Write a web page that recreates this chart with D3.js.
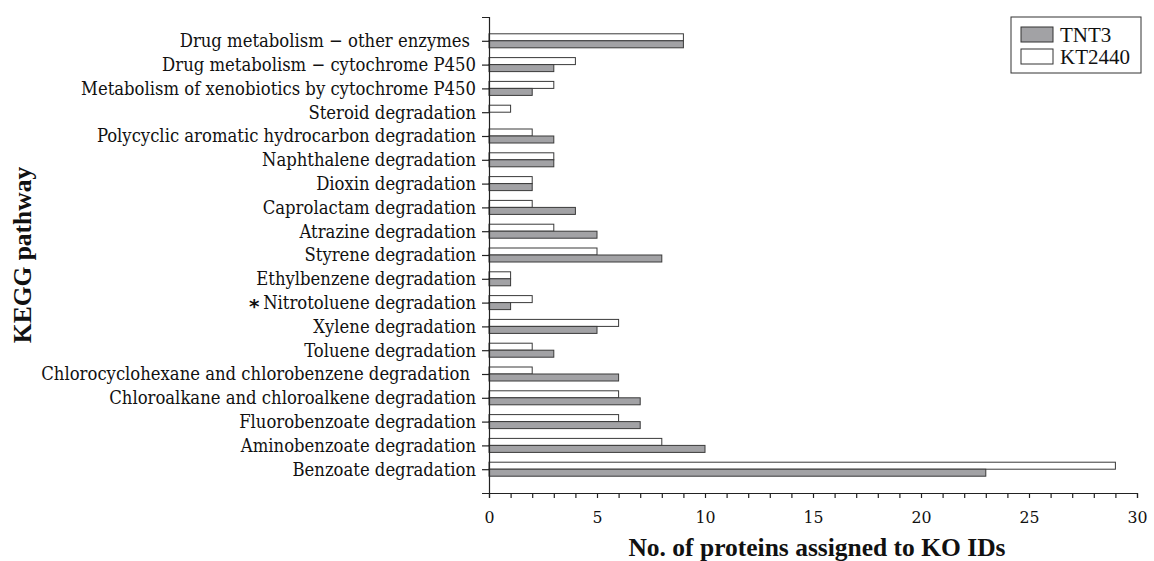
<!DOCTYPE html>
<html>
<head>
<meta charset="utf-8">
<script src="https://cdn.jsdelivr.net/npm/d3@7"></script>
<style>
  body { margin: 0; background: #fff; }
</style>
</head>
<body>
<div id="chart"></div>
<script>
// KEGG pathways, top to bottom
var pathways = [
    "Drug metabolism \u2212 other enzymes",
    "Drug metabolism \u2212 cytochrome P450",
    "Metabolism of xenobiotics by cytochrome P450",
    "Steroid degradation",
    "Polycyclic aromatic hydrocarbon degradation",
    "Naphthalene degradation",
    "Dioxin degradation",
    "Caprolactam degradation",
    "Atrazine degradation",
    "Styrene degradation",
    "Ethylbenzene degradation",
    "Nitrotoluene degradation",
    "Xylene degradation",
    "Toluene degradation",
    "Chlorocyclohexane and chlorobenzene degradation",
    "Chloroalkane and chloroalkene degradation",
    "Fluorobenzoate degradation",
    "Aminobenzoate degradation",
    "Benzoate degradation"
];

// protein counts per pathway
var tnt3   = [9, 3, 2, 0, 3, 3, 2, 4, 5, 8, 1, 1, 5, 3, 6, 7, 7, 10, 23];
var kt2440 = [9, 4, 3, 1, 2, 3, 2, 2, 3, 5, 1, 2, 6, 2, 2, 6, 6, 8, 29];

var xTicks = [0, 5, 10, 15, 20, 25, 30];
var starred = "Nitrotoluene degradation";
// labels that carry a trailing space in the original
var trailingSpace = ["Drug metabolism \u2212 other enzymes",
                     "Chlorocyclohexane and chlorobenzene degradation"];

var width = 1154, height = 561;
var plotLeft = 489, plotRight = 1137, plotTop = 17, plotBottom = 493;
var barH = 7;

var svg = d3.select("#chart")
            .append("svg")
            .attr("width", width)
            .attr("height", height);

// Scales
var xScale = d3.scaleLinear()
               .domain([0, 30])
               .range([plotLeft, plotRight]);

var yScale = d3.scalePoint()
               .domain(pathways)
               .range([plotTop, plotBottom])
               .padding(1);

// Bars - KT2440 above the tick, TNT3 below
var rows = pathways.map(function(p, i) {
    return { name: p, tnt3: tnt3[i], kt2440: kt2440[i] };
});

svg.append("g")
   .selectAll("rect")
   .data(rows)
   .enter()
   .append("rect")
   .attr("x", xScale(0))
   .attr("y", function(d) { return yScale(d.name) - barH; })
   .attr("width", function(d) { return xScale(d.kt2440) - xScale(0); })
   .attr("height", barH)
   .attr("fill", "#ffffff")
   .attr("stroke", "#3a3a3a")
   .attr("stroke-width", 1);

svg.append("g")
   .selectAll("rect")
   .data(rows.filter(function(d) { return d.tnt3 > 0; }))
   .enter()
   .append("rect")
   .attr("x", xScale(0))
   .attr("y", function(d) { return yScale(d.name); })
   .attr("width", function(d) { return xScale(d.tnt3) - xScale(0); })
   .attr("height", barH)
   .attr("fill", "#a2a2a5")
   .attr("stroke", "#3a3a3a")
   .attr("stroke-width", 1);

// Y axis
var yAxis = svg.append("g")
   .attr("class", "axis")
   .attr("transform", "translate(" + plotLeft + ",0)")
   .call(d3.axisLeft(yScale).tickSize(7).tickSizeOuter(7).tickPadding(6));

yAxis.selectAll("text")
     .attr("font-family", "'DejaVu Serif', serif")
     .attr("font-stretch", "condensed")
     .attr("font-size", "18.3px")
     .attr("fill", "#111")
     .attr("dx", function(d) { return trailingSpace.indexOf(d) >= 0 ? -6 : 0; });

// asterisk in front of the starred pathway
yAxis.selectAll(".tick")
     .filter(function(d) { return d === starred; })
     .each(function() {
         var g = d3.select(this);
         var w = g.select("text").node().getComputedTextLength();
         g.append("text")
          .attr("x", -13 - w - 9)
          .attr("dy", "0.5em")
          .attr("text-anchor", "middle")
          .attr("font-family", "'DejaVu Sans', sans-serif")
          .attr("font-weight", "bold")
          .attr("font-size", "20px")
          .attr("fill", "#111")
          .text("*");
     });

// X axis
var xAxis = svg.append("g")
   .attr("class", "axis")
   .attr("transform", "translate(0," + plotBottom + ")")
   .call(d3.axisBottom(xScale).ticks(30).tickSize(5).tickSizeOuter(5).tickPadding(13)
           .tickFormat(function(d) { return xTicks.indexOf(d) >= 0 ? d : ""; }));

xAxis.selectAll("text")
     .attr("font-family", "'DejaVu Serif', serif")
     .attr("font-stretch", "condensed")
     .attr("font-size", "17.5px")
     .attr("fill", "#111");

svg.selectAll(".axis path, .axis line")
   .attr("stroke", "#222")
   .attr("stroke-width", 1.2);

// Axis titles
svg.append("text")
   .attr("x", (plotLeft + plotRight) / 2 + 4)
   .attr("y", 556)
   .attr("text-anchor", "middle")
   .attr("font-family", "'Liberation Serif', serif")
   .attr("font-weight", "bold")
   .attr("font-size", "25.5px")
   .attr("fill", "#111")
   .text("No. of proteins assigned to KO IDs");

svg.append("text")
   .attr("transform", "translate(31," + (plotTop + plotBottom) / 2 + ") rotate(-90)")
   .attr("text-anchor", "middle")
   .attr("font-family", "'Liberation Serif', serif")
   .attr("font-weight", "bold")
   .attr("font-size", "25.5px")
   .attr("fill", "#111")
   .text("KEGG pathway");

// Legend
var legend = svg.append("g").attr("transform", "translate(1011,17)");
legend.append("rect")
      .attr("width", 130).attr("height", 56)
      .attr("fill", "#fff").attr("stroke", "#333").attr("stroke-width", 1);

var legendItems = [
    { label: "TNT3", fill: "#a2a2a5" },
    { label: "KT2440", fill: "#ffffff" }
];
legendItems.forEach(function(item, i) {
    legend.append("rect")
          .attr("x", 10).attr("y", 10 + i * 22)
          .attr("width", 32).attr("height", 15)
          .attr("fill", item.fill).attr("stroke", "#333").attr("stroke-width", 1);
    legend.append("text")
          .attr("x", 49).attr("y", 25 + i * 22)
          .attr("font-family", "'Liberation Serif', serif")
          .attr("font-size", "21px")
          .attr("fill", "#111")
          .text(item.label);
});
</script>
</body>
</html>
